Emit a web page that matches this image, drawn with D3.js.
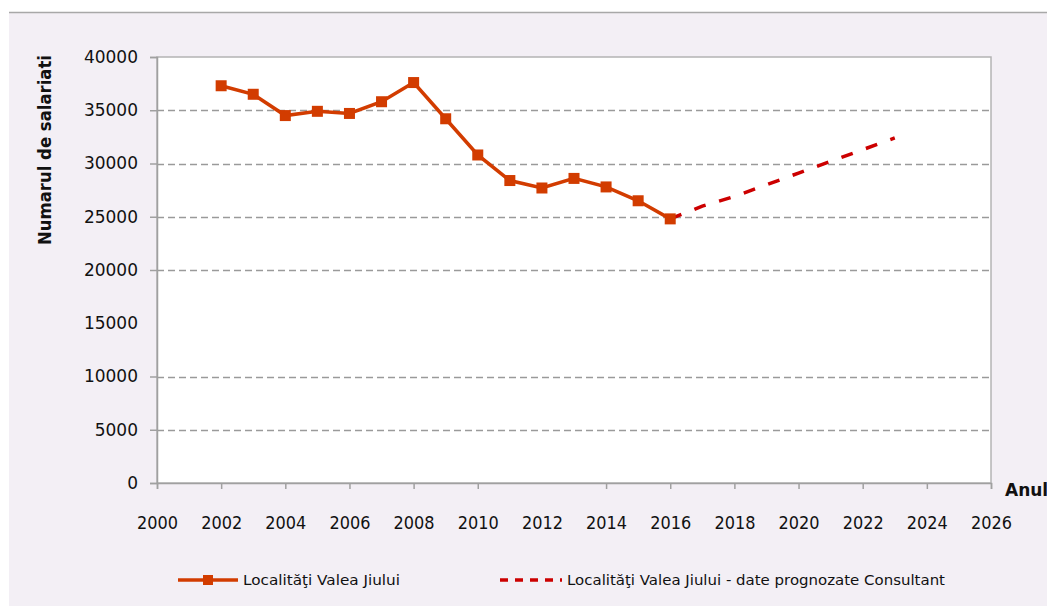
<!DOCTYPE html>
<html>
<head>
<meta charset="utf-8">
<script src="https://cdn.jsdelivr.net/npm/d3@7"></script>
<style>
  body { margin: 0; background: #fff; }
  svg { display: block; }
  text { font-family: "DejaVu Sans", Verdana, sans-serif; fill: #111; }
</style>
</head>
<body>
<svg id="chart" width="1047" height="606"></svg>
<script>
// observed data (Localitati Valea Jiului)
var years = [2002, 2003, 2004, 2005, 2006, 2007, 2008, 2009, 2010, 2011, 2012, 2013, 2014, 2015, 2016];
var salariati = [37300, 36500, 34500, 34900, 34700, 35800, 37600, 34200, 30800, 28400, 27700, 28600, 27800, 26500, 24800];

// forecast (date prognozate Consultant)
var yearsProg = [2016, 2017, 2018, 2019, 2020, 2021, 2022, 2023];
var salariatiProg = [24800, 26000, 26900, 28000, 29100, 30200, 31300, 32400];

var xTicks = [2000, 2002, 2004, 2006, 2008, 2010, 2012, 2014, 2016, 2018, 2020, 2022, 2024, 2026];
var yTicks = [0, 5000, 10000, 15000, 20000, 25000, 30000, 35000, 40000];

var legendLabels = ["Localităţi Valea Jiului", "Localităţi Valea Jiului - date prognozate Consultant"];

var svg = d3.select("#chart");

var plot = {left: 157, top: 57, right: 991, bottom: 483};

// outer chart background
svg.append("rect")
  .attr("x", 9).attr("y", 12)
  .attr("width", 1047).attr("height", 606)
  .attr("fill", "#f3eff5");
svg.append("line")
  .attr("x1", 9).attr("x2", 1047).attr("y1", 12.5).attr("y2", 12.5)
  .attr("stroke", "#a8a8a8").attr("stroke-width", 1.5);

var x = d3.scaleLinear().domain([2000, 2026]).range([plot.left, plot.right]);
var y = d3.scaleLinear().domain([0, 40000]).range([plot.bottom, plot.top]);

// plot area
svg.append("rect")
  .attr("x", plot.left).attr("y", plot.top)
  .attr("width", plot.right - plot.left).attr("height", plot.bottom - plot.top)
  .attr("fill", "#fff").attr("stroke", "#b4b4b4").attr("stroke-width", 1.5);

// gridlines (the 15000 one isn't drawn in the original)
svg.append("g").selectAll("line")
  .data(yTicks.filter(function(d){ return d > 0 && d < 40000 && d != 15000; }))
  .enter().append("line")
  .attr("x1", plot.left).attr("x2", plot.right)
  .attr("y1", function(d){ return Math.round(y(d)) + 0.5; })
  .attr("y2", function(d){ return Math.round(y(d)) + 0.5; })
  .attr("stroke", "#9a9a9a").attr("stroke-width", 1.3)
  .attr("stroke-dasharray", "7,4");

// y axis
var yAxis = d3.axisLeft(y).tickValues(yTicks).tickSize(7).tickPadding(12)
  .tickFormat(function(d){ return d; });
var gy = svg.append("g").attr("transform", "translate(" + plot.left + ",0)").call(yAxis);
gy.select(".domain").attr("stroke", "#a0a0a0").attr("stroke-width", 1.5);
gy.selectAll(".tick line").attr("stroke", "#a0a0a0").attr("stroke-width", 1.5)
  .attr("opacity", function(d){ return d == 15000 ? 0 : 1; });
gy.selectAll(".tick text")
  .style("font-family", "DejaVu Sans, sans-serif")
  .attr("font-size", 17).attr("fill", "#111");

// x axis
var xAxis = d3.axisBottom(x).tickValues(xTicks).tickSize(6).tickPadding(28)
  .tickFormat(function(d){ return d; });
var gx = svg.append("g").attr("transform", "translate(0," + plot.bottom + ")").call(xAxis);
gx.select(".domain").attr("stroke", "#a0a0a0").attr("stroke-width", 1.5);
gx.selectAll(".tick line").attr("stroke", "#a0a0a0").attr("stroke-width", 1.5)
  .attr("opacity", function(d){ return d == 2012 ? 0 : 1; });
gx.selectAll(".tick text")
  .style("font-family", "DejaVu Sans, sans-serif")
  .attr("font-size", 17).attr("fill", "#111")
  .attr("textLength", 41).attr("lengthAdjust", "spacingAndGlyphs");

// axis titles
svg.append("text")
  .attr("transform", "translate(51,150) rotate(-90)")
  .attr("text-anchor", "middle")
  .attr("font-size", 17).attr("font-weight", "bold")
  .attr("textLength", 190).attr("lengthAdjust", "spacingAndGlyphs")
  .text("Numarul de salariati");

svg.append("text")
  .attr("x", 1005).attr("y", 496)
  .attr("font-size", 17).attr("font-weight", "bold")
  .text("Anul");

// series
var line = d3.line()
  .x(function(d){ return x(d[0]); })
  .y(function(d){ return y(d[1]); });

var obs = d3.zip(years, salariati);
var prog = d3.zip(yearsProg, salariatiProg);

svg.append("path").datum(prog)
  .attr("d", line).attr("fill", "none")
  .attr("stroke", "#cc0000").attr("stroke-width", 3.5)
  .attr("stroke-dasharray", "12,14");

svg.append("path").datum(obs)
  .attr("d", line).attr("fill", "none")
  .attr("stroke", "#d23c00").attr("stroke-width", 3.5);

svg.append("g").selectAll("rect")
  .data(obs).enter().append("rect")
  .attr("x", function(d){ return x(d[0]) - 5.5; })
  .attr("y", function(d){ return y(d[1]) - 5.5; })
  .attr("width", 11).attr("height", 11)
  .attr("fill", "#d23c00");

// legend
var lg = svg.append("g").attr("transform", "translate(0,580)");
lg.append("line").attr("x1", 178).attr("x2", 238).attr("y1", 0).attr("y2", 0)
  .attr("stroke", "#d23c00").attr("stroke-width", 3.5);
lg.append("rect").attr("x", 203).attr("y", -5).attr("width", 10).attr("height", 10)
  .attr("fill", "#d23c00");
lg.append("text").attr("x", 243).attr("y", 5)
  .attr("font-size", 14).attr("textLength", 157).attr("lengthAdjust", "spacingAndGlyphs")
  .text(legendLabels[0]);

lg.append("line").attr("x1", 500).attr("x2", 562).attr("y1", 0).attr("y2", 0)
  .attr("stroke", "#cc0000").attr("stroke-width", 3.5)
  .attr("stroke-dasharray", "8,7");
lg.append("text").attr("x", 567).attr("y", 5)
  .attr("font-size", 14).attr("textLength", 378).attr("lengthAdjust", "spacingAndGlyphs")
  .text(legendLabels[1]);
</script>
</body>
</html>
